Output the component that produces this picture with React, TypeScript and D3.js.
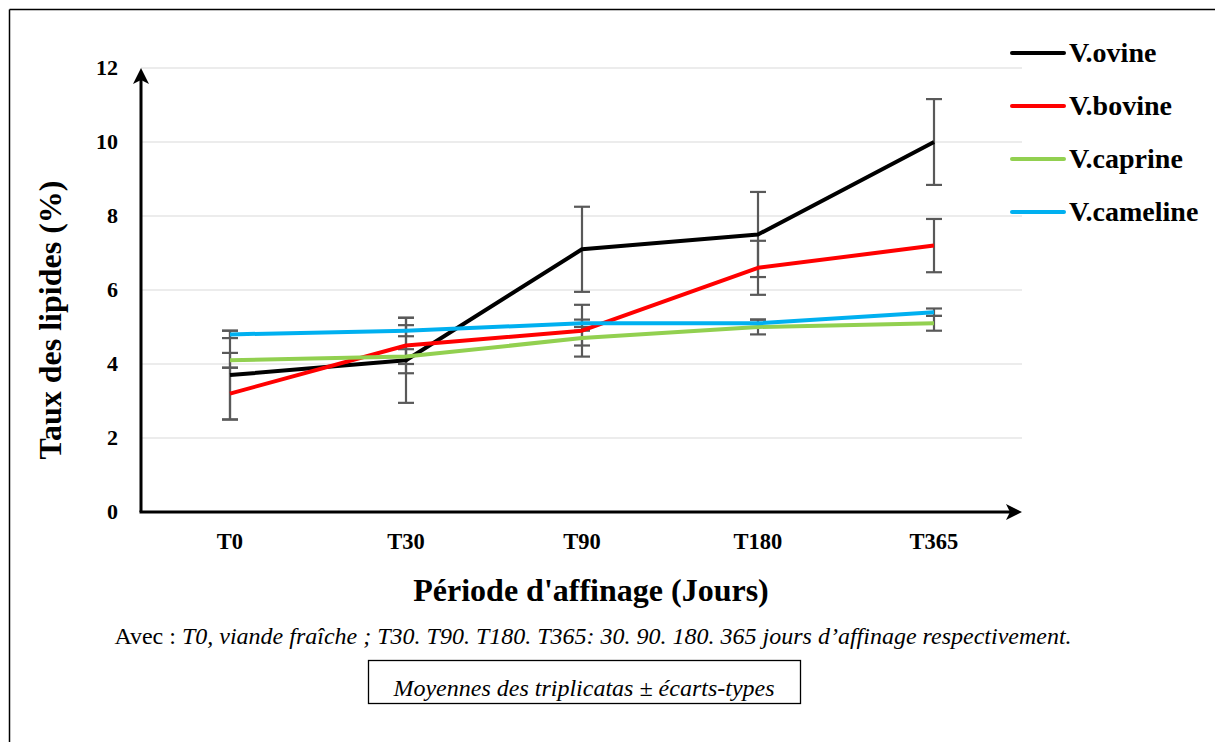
import React from "react";
import * as d3 from "d3";

const categories = ["T0", "T30", "T90", "T180", "T365"];
const seriesNames = ["V.ovine", "V.bovine", "V.caprine", "V.cameline"];
const seriesColors = ["#000000", "#ff0000", "#92d050", "#00b0f0"];
const ovine = [3.7, 4.1, 7.1, 7.5, 10.0];
const bovine = [3.2, 4.5, 4.9, 6.6, 7.2];
const caprine = [4.1, 4.2, 4.7, 5.0, 5.1];
const cameline = [4.8, 4.9, 5.1, 5.1, 5.4];
const ovineSd = [1.2, 1.15, 1.15, 1.15, 1.16];
const bovineSd = [0.7, 0.75, 0.7, 0.73, 0.72];
const caprineSd = [0.2, 0.2, 0.2, 0.2, 0.2];
const camelineSd = [0.1, 0.15, 0.1, 0.1, 0.1];
const yTicks = [0, 2, 4, 6, 8, 10, 12];

const seriesValues = [ovine, bovine, caprine, cameline];
const seriesSd = [ovineSd, bovineSd, caprineSd, camelineSd];

export default function App() {
  const W = 1215, H = 742;
  const x0 = 141, x1 = 1022, yTop = 68, yBot = 512;
  const x = d3.scaleBand<string>().domain(categories).range([142, 1022]);
  const cx = (c: string) => (x(c) as number) + x.bandwidth() / 2;
  const y = d3.scaleLinear().domain([0, 12]).range([yBot, yTop]);
  const line = d3.line<number>().x((_, i) => cx(categories[i])).y((v) => y(v));
  const serif = "'Liberation Serif', 'Times New Roman', serif";
  const capW = 8;

  return (
    <svg width={W} height={H} style={{ position: "absolute", left: 0, top: 0, background: "#fff" }} fontFamily={serif}>
      <rect x={0} y={0} width={W} height={H} fill="#fff" />
      {/* frame */}
      <line x1={9.5} y1={9.5} x2={W} y2={9.5} stroke="#000" strokeWidth={1.5} />
      <line x1={9.5} y1={9.5} x2={9.5} y2={H} stroke="#000" strokeWidth={1.5} />
      {/* gridlines */}
      {yTicks.filter((t) => t > 0).map((t) => (
        <line key={t} x1={x0} x2={x1} y1={y(t)} y2={y(t)} stroke="#d9d9d9" strokeWidth={1} />
      ))}
      {/* y tick labels */}
      {yTicks.map((t) => (
        <text key={t} x={118} y={y(t) + 7} textAnchor="end" fontSize={22} fontWeight="bold">{t}</text>
      ))}
      {/* x labels */}
      {categories.map((c) => (
        <text key={c} x={cx(c)} y={549} textAnchor="middle" fontSize={22.5} fontWeight="bold">{c}</text>
      ))}
      {/* error bars */}
      {seriesValues.map((vals, si) => (
        <g key={"e" + si} stroke="#595959" strokeWidth={2.2}>
          {vals.map((v, i) => {
            const px = cx(categories[i]);
            const hi = y(v + seriesSd[si][i]);
            const lo = y(v - seriesSd[si][i]);
            return (
              <g key={i}>
                <line x1={px} x2={px} y1={hi} y2={lo} />
                <line x1={px - capW} x2={px + capW} y1={hi} y2={hi} />
                <line x1={px - capW} x2={px + capW} y1={lo} y2={lo} />
              </g>
            );
          })}
        </g>
      ))}
      {/* series lines */}
      {seriesValues.map((vals, si) => (
        <path key={"l" + si} d={line(vals) as string} fill="none" stroke={seriesColors[si]} strokeWidth={4} strokeLinejoin="round" />
      ))}
      {/* axes with arrows */}
      <line x1={x0} y1={yBot} x2={x0} y2={yTop + 12} stroke="#000" strokeWidth={3} />
      <path d={`M${x0},${yTop} L${x0 - 8},${yTop + 16} L${x0},${yTop + 12} L${x0 + 8},${yTop + 16} Z`} fill="#000" />
      <line x1={x0 - 1.5} y1={yBot} x2={x1 - 12} y2={yBot} stroke="#000" strokeWidth={3} />
      <path d={`M${x1},${yBot} L${x1 - 16},${yBot - 8} L${x1 - 12},${yBot} L${x1 - 16},${yBot + 8} Z`} fill="#000" />
      {/* axis titles */}
      <text x={591} y={601} textAnchor="middle" fontSize={32} fontWeight="bold">Période d'affinage (Jours)</text>
      <text transform={`translate(61,${320}) rotate(-90)`} textAnchor="middle" fontSize={32} fontWeight="bold">Taux des lipides (%)</text>
      {/* legend */}
      {seriesNames.map((n, i) => (
        <g key={n} transform={`translate(0,${53 + i * 53})`}>
          <line x1={1012} x2={1064} y1={0} y2={0} stroke={seriesColors[i]} strokeWidth={4} strokeLinecap="round" />
          <text x={1069} y={9} fontSize={28} fontWeight="bold">{n}</text>
        </g>
      ))}
      {/* caption */}
      <text x={593} y={644} textAnchor="middle" fontSize={24}>
        <tspan>Avec : </tspan>
        <tspan fontStyle="italic">T0, viande fraîche ; T30. T90. T180. T365: 30. 90. 180. 365 jours d’affinage respectivement.</tspan>
      </text>
      <rect x={368.5} y={660.5} width={432} height={43} fill="none" stroke="#000" strokeWidth={1.3} />
      <text x={584} y={696} textAnchor="middle" fontSize={24} fontStyle="italic">Moyennes des triplicatas ± écarts-types</text>
    </svg>
  );
}
